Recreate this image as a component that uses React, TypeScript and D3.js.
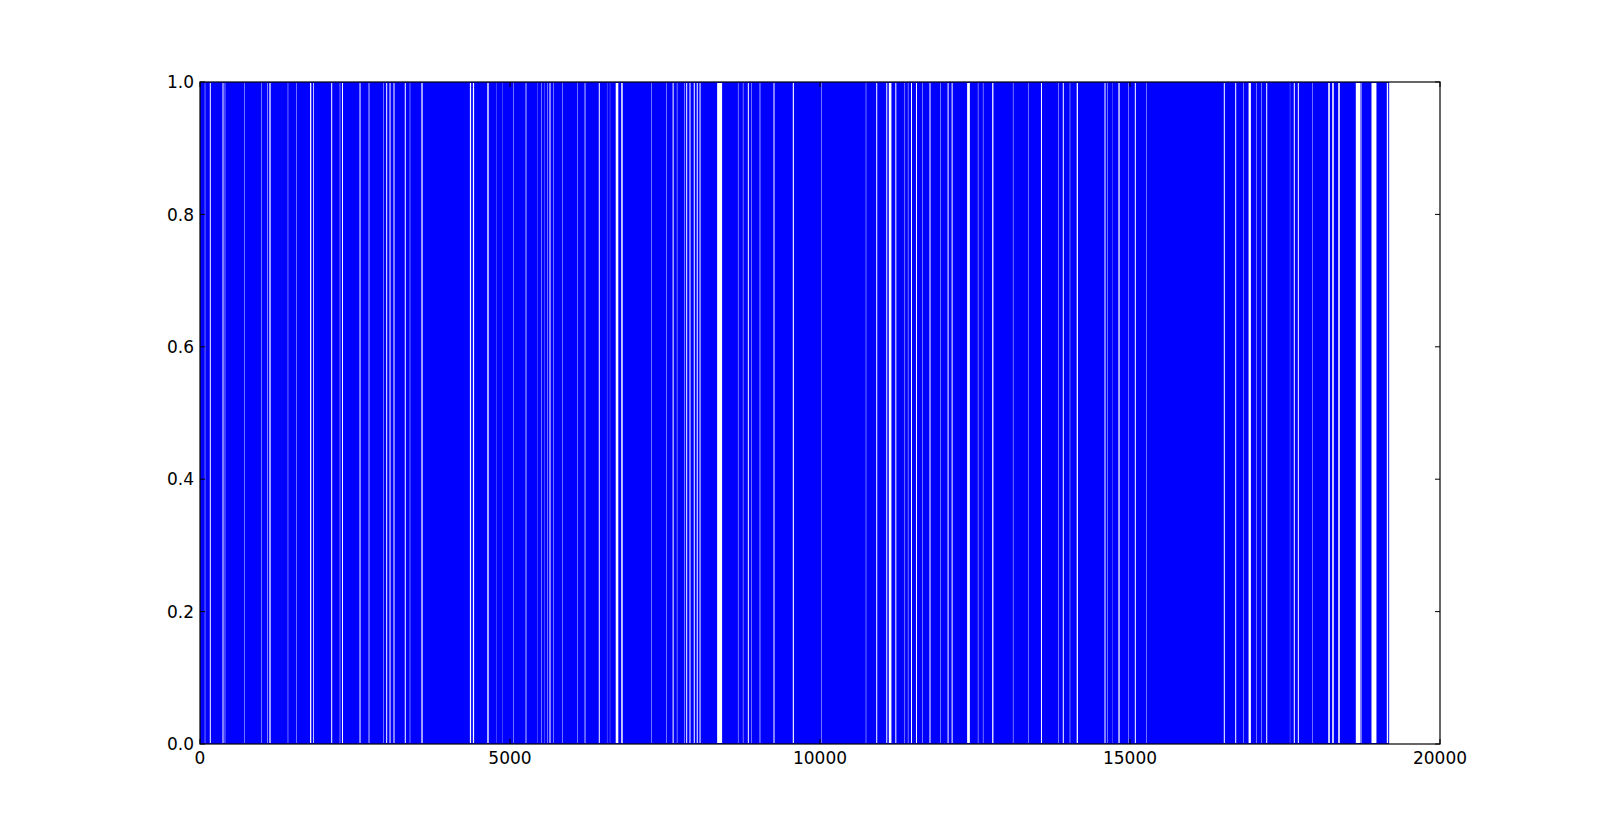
import * as d3 from "d3";

// binary signal, drawn as stripes: the trace toggles 0/1 so densely that it fills the band,
// and only the places where it sits still show up as white gaps
const signalStart = 0;
const signalEnd = 19180;

// [centre, width] of each gap, in sample units
const gaps: [number, number][] = [
    [81, 7], [166, 16], [371, 16], [403, 8], [715, 7], [995, 7], [1089, 8], [1129, 20],
    [1419, 7], [1560, 7], [1785, 20], [1831, 12],
    [2124, 16], [2258, 7], [2298, 16], [2581, 16], [2726, 12], [2957, 7], [3011, 16],
    [3065, 16], [3129, 16], [3311, 16], [3387, 7], [3581, 20],
    [4363, 20], [4411, 20], [4645, 22], [4785, 4], [4876, 4], [5053, 7], [5258, 12],
    [5447, 4], [5508, 7], [5553, 4], [5608, 7], [5645, 16], [5698, 7], [5844, 7],
    [6086, 7], [6210, 12], [6440, 16], [6566, 4], [6613, 4], [6726, 42], [6806, 24],
    [7285, 7], [7527, 7], [7631, 16], [7695, 7], [7810, 7], [7850, 16], [7903, 16],
    [7972, 16], [8020, 16], [8065, 16],
    [8381, 80], [8680, 7], [8760, 7], [8844, 16], [8899, 7], [9032, 10], [9258, 16],
    [9570, 18], [10027, 7],
    [10742, 7], [10915, 16], [11077, 16], [11131, 42], [11223, 16], [11368, 7], [11421, 7],
    [11476, 16], [11556, 16], [11653, 7], [11774, 16], [11946, 7], [12066, 16],
    [12131, 16], [12395, 44], [12550, 7], [12631, 7], [12787, 20], [13115, 7], [13358, 7],
    [13572, 16], [13843, 7], [13924, 16], [14032, 7],
    [14150, 20], [14597, 16], [14634, 7], [14721, 4], [14823, 20], [14973, 7], [15086, 16],
    [15266, 7],
    [16521, 16], [16705, 16], [16828, 7], [16931, 37], [17044, 7], [17124, 7], [17205, 16],
    [17581, 4], [17650, 16], [17715, 16], [17941, 7],
    [18210, 25], [18274, 25], [18371, 25], [18680, 76], [18734, 7], [18935, 80], [19153, 22],
];

const xTicks = [0, 5000, 10000, 15000, 20000];
const yTicks = [0, 0.2, 0.4, 0.6, 0.8, 1.0];

export default function App() {
    const width = 1600;
    const height = 827;

    const left = 200;
    const right = 1440;
    const top = 82;
    const bottom = 744;

    const x = d3.scaleLinear().domain([0, 20000]).range([left, right]);
    const y = d3.scaleLinear().domain([0, 1]).range([bottom, top]);

    const tickLen = 5;
    const font = "'DejaVu Sans', sans-serif";

    return (
        <svg
            width={width}
            height={height}
            style={{ position: "absolute", left: 0, top: 0, background: "#fff" }}
        >
            <rect x={0} y={0} width={width} height={height} fill="#fff" />

            <rect
                x={x(signalStart)}
                y={y(1)}
                width={x(signalEnd) - x(signalStart)}
                height={y(0) - y(1)}
                fill="#0000ff"
            />
            {gaps.map(([c, w], i) => (
                <rect
                    key={i}
                    x={x(c - w / 2)}
                    y={y(1) + 1}
                    width={x(c + w / 2) - x(c - w / 2)}
                    height={y(0) - y(1) - 2}
                    fill="#fff"
                />
            ))}

            {yTicks.map(t => (
                <g key={"y" + t}>
                    <line x1={left} x2={left + tickLen} y1={y(t)} y2={y(t)} stroke="#000" />
                    <line x1={right} x2={right - tickLen} y1={y(t)} y2={y(t)} stroke="#000" />
                    <text
                        x={left - 6}
                        y={y(t)}
                        dy="0.36em"
                        textAnchor="end"
                        fontFamily={font}
                        fontSize={17}
                    >
                        {t.toFixed(1)}
                    </text>
                </g>
            ))}

            {xTicks.map(t => (
                <g key={"x" + t}>
                    <line x1={x(t)} x2={x(t)} y1={bottom} y2={bottom - tickLen} stroke="#000" />
                    <line x1={x(t)} x2={x(t)} y1={top} y2={top + tickLen} stroke="#000" />
                    <text
                        x={x(t)}
                        y={bottom + 8}
                        dy="0.73em"
                        textAnchor="middle"
                        fontFamily={font}
                        fontSize={17}
                    >
                        {t}
                    </text>
                </g>
            ))}

            <rect
                x={left}
                y={top}
                width={right - left}
                height={bottom - top}
                fill="none"
                stroke="#000"
                strokeWidth={1.2}
            />
        </svg>
    );
}
